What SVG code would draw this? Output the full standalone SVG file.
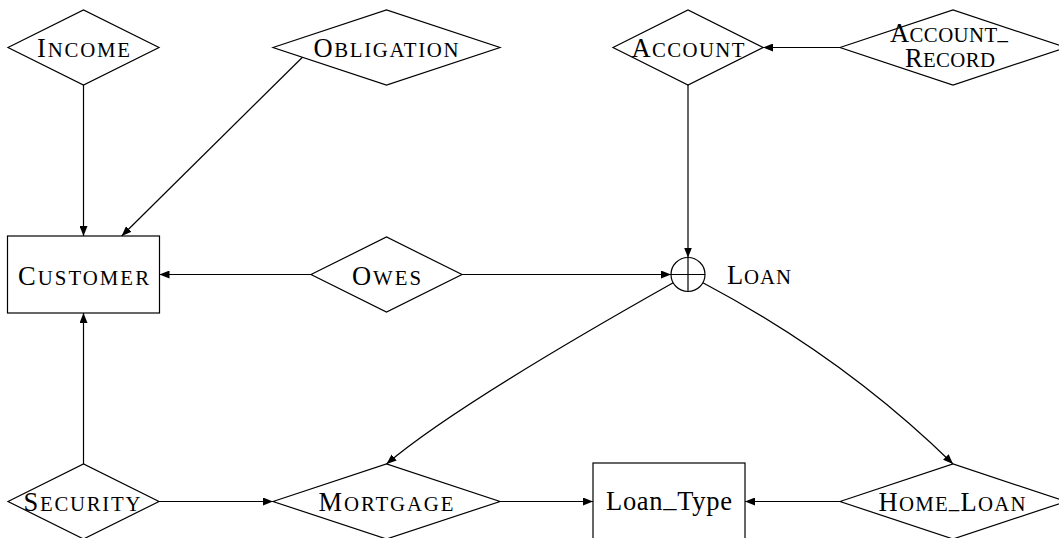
<svg xmlns="http://www.w3.org/2000/svg" width="1059" height="538" viewBox="0 0 1059 538">
<style>
.shape{fill:#fff;stroke:#000;stroke-width:1.2}
.edge{fill:none;stroke:#000;stroke-width:1.2}
text{font-family:"Liberation Serif","DejaVu Serif",serif;font-size:26.5px;fill:#000;text-anchor:middle}
.sc{font-size:20.8px}
</style>
<defs>
<marker id="arr" viewBox="0 0 10 8" refX="10" refY="4" markerWidth="10" markerHeight="8" markerUnits="userSpaceOnUse" orient="auto">
<path d="M0,0 L10,4 L0,8 Z" fill="#000"/>
</marker>
</defs>
<rect width="1059" height="538" fill="#fff"/>
<g id="connectors">
<line class="edge" x1="83.5" y1="85" x2="83.5" y2="236" marker-end="url(#arr)"/>
<line class="edge" x1="302.7" y1="57" x2="121.7" y2="236" marker-end="url(#arr)"/>
<line class="edge" x1="840" y1="47.5" x2="763" y2="47.5" marker-end="url(#arr)"/>
<line class="edge" x1="688" y1="85" x2="688" y2="257.5" marker-end="url(#arr)"/>
<line class="edge" x1="311" y1="274.5" x2="159.5" y2="274.5" marker-end="url(#arr)"/>
<line class="edge" x1="462" y1="274.5" x2="671" y2="274.5" marker-end="url(#arr)"/>
<line class="edge" x1="83.5" y1="464" x2="83.5" y2="313" marker-end="url(#arr)"/>
<line class="edge" x1="159" y1="501.5" x2="273" y2="501.5" marker-end="url(#arr)"/>
<line class="edge" x1="500" y1="501.5" x2="593" y2="501.5" marker-end="url(#arr)"/>
<line class="edge" x1="840" y1="501.5" x2="745" y2="501.5" marker-end="url(#arr)"/>
<path class="edge" d="M673.2,282.8 Q456,405 386.5,464" marker-end="url(#arr)"/>
<path class="edge" d="M702.9,282.7 Q845,358 953,464" marker-end="url(#arr)"/>
</g>
<g id="income">
<polygon class="shape" points="8,47.5 83.5,10 159,47.5 83.5,85"/>
<text x="83.5" y="57" textLength="93" lengthAdjust="spacing">I<tspan class="sc">NCOME</tspan></text>
</g>
<g id="obligation">
<polygon class="shape" points="273,47.5 386.5,10 500,47.5 386.5,85"/>
<text x="386" y="57" textLength="145" lengthAdjust="spacing">O<tspan class="sc">BLIGATION</tspan></text>
</g>
<g id="account">
<polygon class="shape" points="613,47.5 688,10 763,47.5 688,85"/>
<text x="688" y="57" textLength="113" lengthAdjust="spacing">A<tspan class="sc">CCOUNT</tspan></text>
</g>
<g id="account_record">
<polygon class="shape" points="840,47.5 953,10 1066,47.5 953,85"/>
<text x="949" y="42" textLength="118" lengthAdjust="spacing">A<tspan class="sc">CCOUNT</tspan><tspan class="sc" dy="-3">_</tspan></text>
<text x="950" y="67" textLength="90" lengthAdjust="spacing">R<tspan class="sc">ECORD</tspan></text>
</g>
<g id="customer">
<rect class="shape" x="7.5" y="236" width="152" height="77"/>
<text x="83.5" y="285" textLength="131" lengthAdjust="spacing">C<tspan class="sc">USTOMER</tspan></text>
</g>
<g id="owes">
<polygon class="shape" points="311,274.5 386.5,237 462,274.5 386.5,312"/>
<text x="386.5" y="285" textLength="69" lengthAdjust="spacing">O<tspan class="sc">WES</tspan></text>
</g>
<g id="loan">
<circle class="shape" cx="688" cy="274.5" r="17"/>
<line class="edge" x1="671" y1="274.5" x2="705" y2="274.5"/>
<line class="edge" x1="688" y1="257.5" x2="688" y2="291.5"/>
<text x="759" y="284" textLength="64" lengthAdjust="spacing">L<tspan class="sc">OAN</tspan></text>
</g>
<g id="security">
<polygon class="shape" points="8,501.5 83.5,464 159,501.5 83.5,539"/>
<text x="82" y="511" textLength="117" lengthAdjust="spacing">S<tspan class="sc">ECURITY</tspan></text>
</g>
<g id="mortgage">
<polygon class="shape" points="273,501.5 386.5,464 500,501.5 386.5,539"/>
<text x="386" y="511" textLength="135" lengthAdjust="spacing">M<tspan class="sc">ORTGAGE</tspan></text>
</g>
<g id="loan_type">
<rect class="shape" x="593" y="463" width="152" height="100"/>
<text x="669" y="510" textLength="126" lengthAdjust="spacing">Loan<tspan dy="-3">_</tspan><tspan dy="3">Type</tspan></text>
</g>
<g id="home_loan">
<polygon class="shape" points="840,501.5 953,464 1066,501.5 953,539"/>
<text x="952" y="511" textLength="147" lengthAdjust="spacing">H<tspan class="sc">OME</tspan><tspan class="sc" dy="-3">_</tspan><tspan dy="3">L</tspan><tspan class="sc">OAN</tspan></text>
</g>
</svg>
